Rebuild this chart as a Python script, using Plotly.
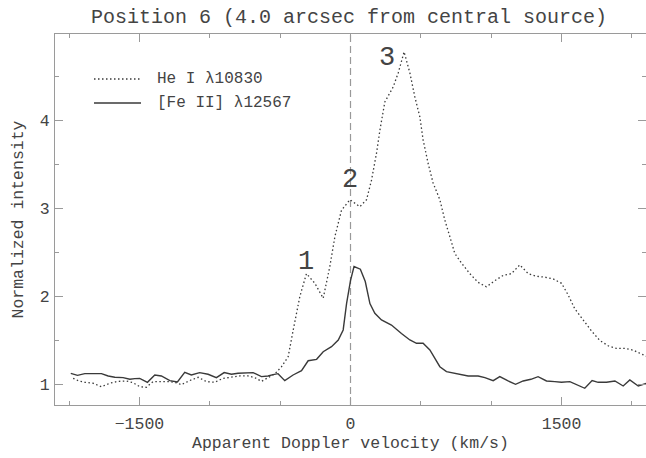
import plotly.graph_objects as go

# He I 10830 (dotted)
hei_v = [-1971, -1930, -1888, -1829, -1770, -1711, -1652, -1593, -1545, -1498,
         -1451, -1403, -1344, -1284, -1237, -1202, -1143, -1083, -1024, -965,
         -906, -846, -787, -728, -680, -633, -586, -538, -491, -443,
         -407, -360, -313, -253, -194, -147, -111, -64, -4, 31,
         66, 114, 149, 185, 209, 244, 303, 339, 381, 422,
         457, 493, 516, 552, 587, 635, 670, 706, 741, 789,
         848, 907, 966, 1026, 1085, 1144, 1203, 1263, 1322, 1381,
         1440, 1500, 1546, 1594, 1653, 1712, 1772, 1831, 1891, 1950,
         2009, 2057, 2104]
hei_i = [1.07, 1.04, 1.025, 1.014, 0.975, 1.014, 1.036, 1.04, 1.02, 0.975,
         0.968, 1.033, 1.033, 1.033, 1.02, 0.998, 1.044, 1.082, 1.033, 1.025,
         1.07, 1.082, 1.097, 1.097, 1.078, 1.036, 1.082, 1.12, 1.2, 1.316,
         1.62, 2.0, 2.26, 2.15, 1.98, 2.34, 2.68, 2.98, 3.10, 3.06,
         3.02, 3.10, 3.32, 3.63, 3.89, 4.21, 4.38, 4.54, 4.78, 4.54,
         4.27, 4.04, 3.78, 3.51, 3.29, 3.10, 2.87, 2.68, 2.49, 2.38,
         2.26, 2.16, 2.11, 2.18, 2.24, 2.26, 2.36, 2.26, 2.23, 2.22,
         2.20, 2.15, 2.02, 1.86, 1.73, 1.61, 1.50, 1.44, 1.41, 1.41,
         1.39, 1.35, 1.32]

# [Fe II] 12567 (solid)
feii_v = [-1988, -1940, -1888, -1829, -1770, -1722, -1675, -1616, -1568, -1533,
          -1498, -1443, -1391, -1344, -1284, -1230, -1178, -1131, -1072, -1012,
          -953, -898, -846, -799, -740, -692, -633, -586, -550, -515,
          -467, -408, -348, -301, -241, -194, -135, -87, -52, -28,
          0, 25, 70, 105, 138, 173, 220, 291, 362, 422,
          469, 516, 564, 599, 635, 682, 753, 836, 907, 955,
          1014, 1061, 1120, 1173, 1227, 1282, 1333, 1393, 1452, 1499,
          1559, 1606, 1665, 1717, 1760, 1819, 1879, 1938, 1985, 2045,
          2103]
feii_i = [1.127, 1.104, 1.123, 1.123, 1.123, 1.097, 1.082, 1.078, 1.059, 1.067,
          1.07, 1.025, 1.108, 1.097, 1.044, 1.029, 1.138, 1.108, 1.135, 1.116,
          1.078, 1.135, 1.116, 1.127, 1.127, 1.135, 1.09, 1.097, 1.112, 1.123,
          1.044, 1.108, 1.157, 1.27, 1.286, 1.373, 1.43, 1.506, 1.62, 1.92,
          2.18, 2.34, 2.31, 2.17, 1.92, 1.81, 1.733, 1.676, 1.58, 1.506,
          1.468, 1.468, 1.392, 1.298, 1.202, 1.146, 1.127, 1.097, 1.097, 1.078,
          1.044, 1.089, 1.040, 1.002, 1.040, 1.059, 1.089, 1.040, 1.033, 1.025,
          1.033, 1.002, 0.957, 1.044, 1.025, 1.025, 1.040, 0.983, 1.051, 0.983,
          1.013]

x_ticks = [-1500, 0, 1500]
x_minor = [-2000, -1000, -500, 500, 1000, 2000]
y_ticks = [1, 2, 3, 4]
y_minor = [1.5, 2.5, 3.5, 4.5]

peak_labels = ["1", "2", "3"]
peak_v = [-313, -7, 256]
peak_y = [2.39, 3.32, 4.71]

FONT = "Liberation Mono"
TXT = "#444444"
AX = "#9a9a9a"
LINE = "#3a3a3a"
DOTS = "1.5px,2.5px"

FIG_W, FIG_H = 646, 458

fig = go.Figure()
fig.add_trace(go.Scatter(x=hei_v, y=hei_i, mode="lines", name="He I λ10830",
                         line=dict(color=LINE, width=1.3, dash=DOTS), showlegend=False))
fig.add_trace(go.Scatter(x=feii_v, y=feii_i, mode="lines", name="[Fe II] λ12567",
                         line=dict(color=LINE, width=1.4), showlegend=False))

# vertical dashed line at zero velocity
fig.add_shape(type="line", xref="x", yref="paper", x0=0, x1=0, y0=0, y1=1,
              line=dict(color="#999999", width=1.2, dash="7px,4px"), layer="below")

# helpers: pixel -> paper coordinates (plot area spans x 55..646, y 34..405)
L, T, W, H = 55, 34, 591, 371
def px(x):
    return (x - L) / W
def py(y):
    return (T + H - y) / H

# legend drawn manually
legend = [("He I λ10830", DOTS, 1.3, 79), ("[Fe II] λ12567", "solid", 1.4, 103)]
for text, dash, w, yy in legend:
    fig.add_shape(type="line", xref="paper", yref="paper", x0=px(94), x1=px(141),
                  y0=py(yy), y1=py(yy), line=dict(color=LINE, width=w, dash=dash))
    fig.add_annotation(xref="paper", yref="paper", x=px(155), y=py(yy), text=text,
                       showarrow=False, xanchor="left", yanchor="middle",
                       font=dict(family=FONT, size=16, color=TXT))

for lab, xv, yv in zip(peak_labels, peak_v, peak_y):
    fig.add_annotation(x=xv, y=yv, text=lab, showarrow=False,
                       font=dict(family=FONT, size=27, color=TXT))

# x-axis title placed as annotation for precise vertical position
fig.add_annotation(xref="paper", yref="paper", x=0.5, y=py(443),
                   text="Apparent Doppler velocity (km/s)", showarrow=False,
                   xanchor="center", yanchor="middle",
                   font=dict(family=FONT, size=16.5, color=TXT))

axis_common = dict(showline=True, linecolor=AX, linewidth=1, mirror="ticks",
                   ticks="inside", tickcolor=AX, ticklen=8, tickwidth=1,
                   showgrid=False, zeroline=False, automargin=False,
                   tickfont=dict(family=FONT, size=16.5, color=TXT))

fig.update_xaxes(range=[-2100, 2100], tickvals=x_ticks, ticklabelstandoff=3,
                 minor=dict(tickvals=x_minor, ticks="inside", ticklen=4, tickcolor=AX),
                 **axis_common)
fig.update_yaxes(range=[0.767, 4.983], tickvals=y_ticks, ticklabelstandoff=1,
                 minor=dict(tickvals=y_minor, ticks="inside", ticklen=4, tickcolor=AX),
                 title=dict(text="Normalized intensity", standoff=12,
                            font=dict(family=FONT, size=16.5, color=TXT)),
                 **axis_common)

fig.update_layout(
    width=FIG_W, height=FIG_H,
    margin=dict(l=L, r=0, t=T, b=FIG_H - (T + H)),
    paper_bgcolor="white", plot_bgcolor="white",
    title=dict(text="Position 6 (4.0 arcsec from central source)",
               x=349 / FIG_W, xanchor="center",
               y=1 - 16 / FIG_H, yanchor="middle",
               font=dict(family=FONT, size=20, color=TXT)),
)

# remove the default 8px page margin so the figure fills the window exactly
fig.write_html("out.html", config={"displayModeBar": False},
               post_script="document.body.style.margin='0px';")
